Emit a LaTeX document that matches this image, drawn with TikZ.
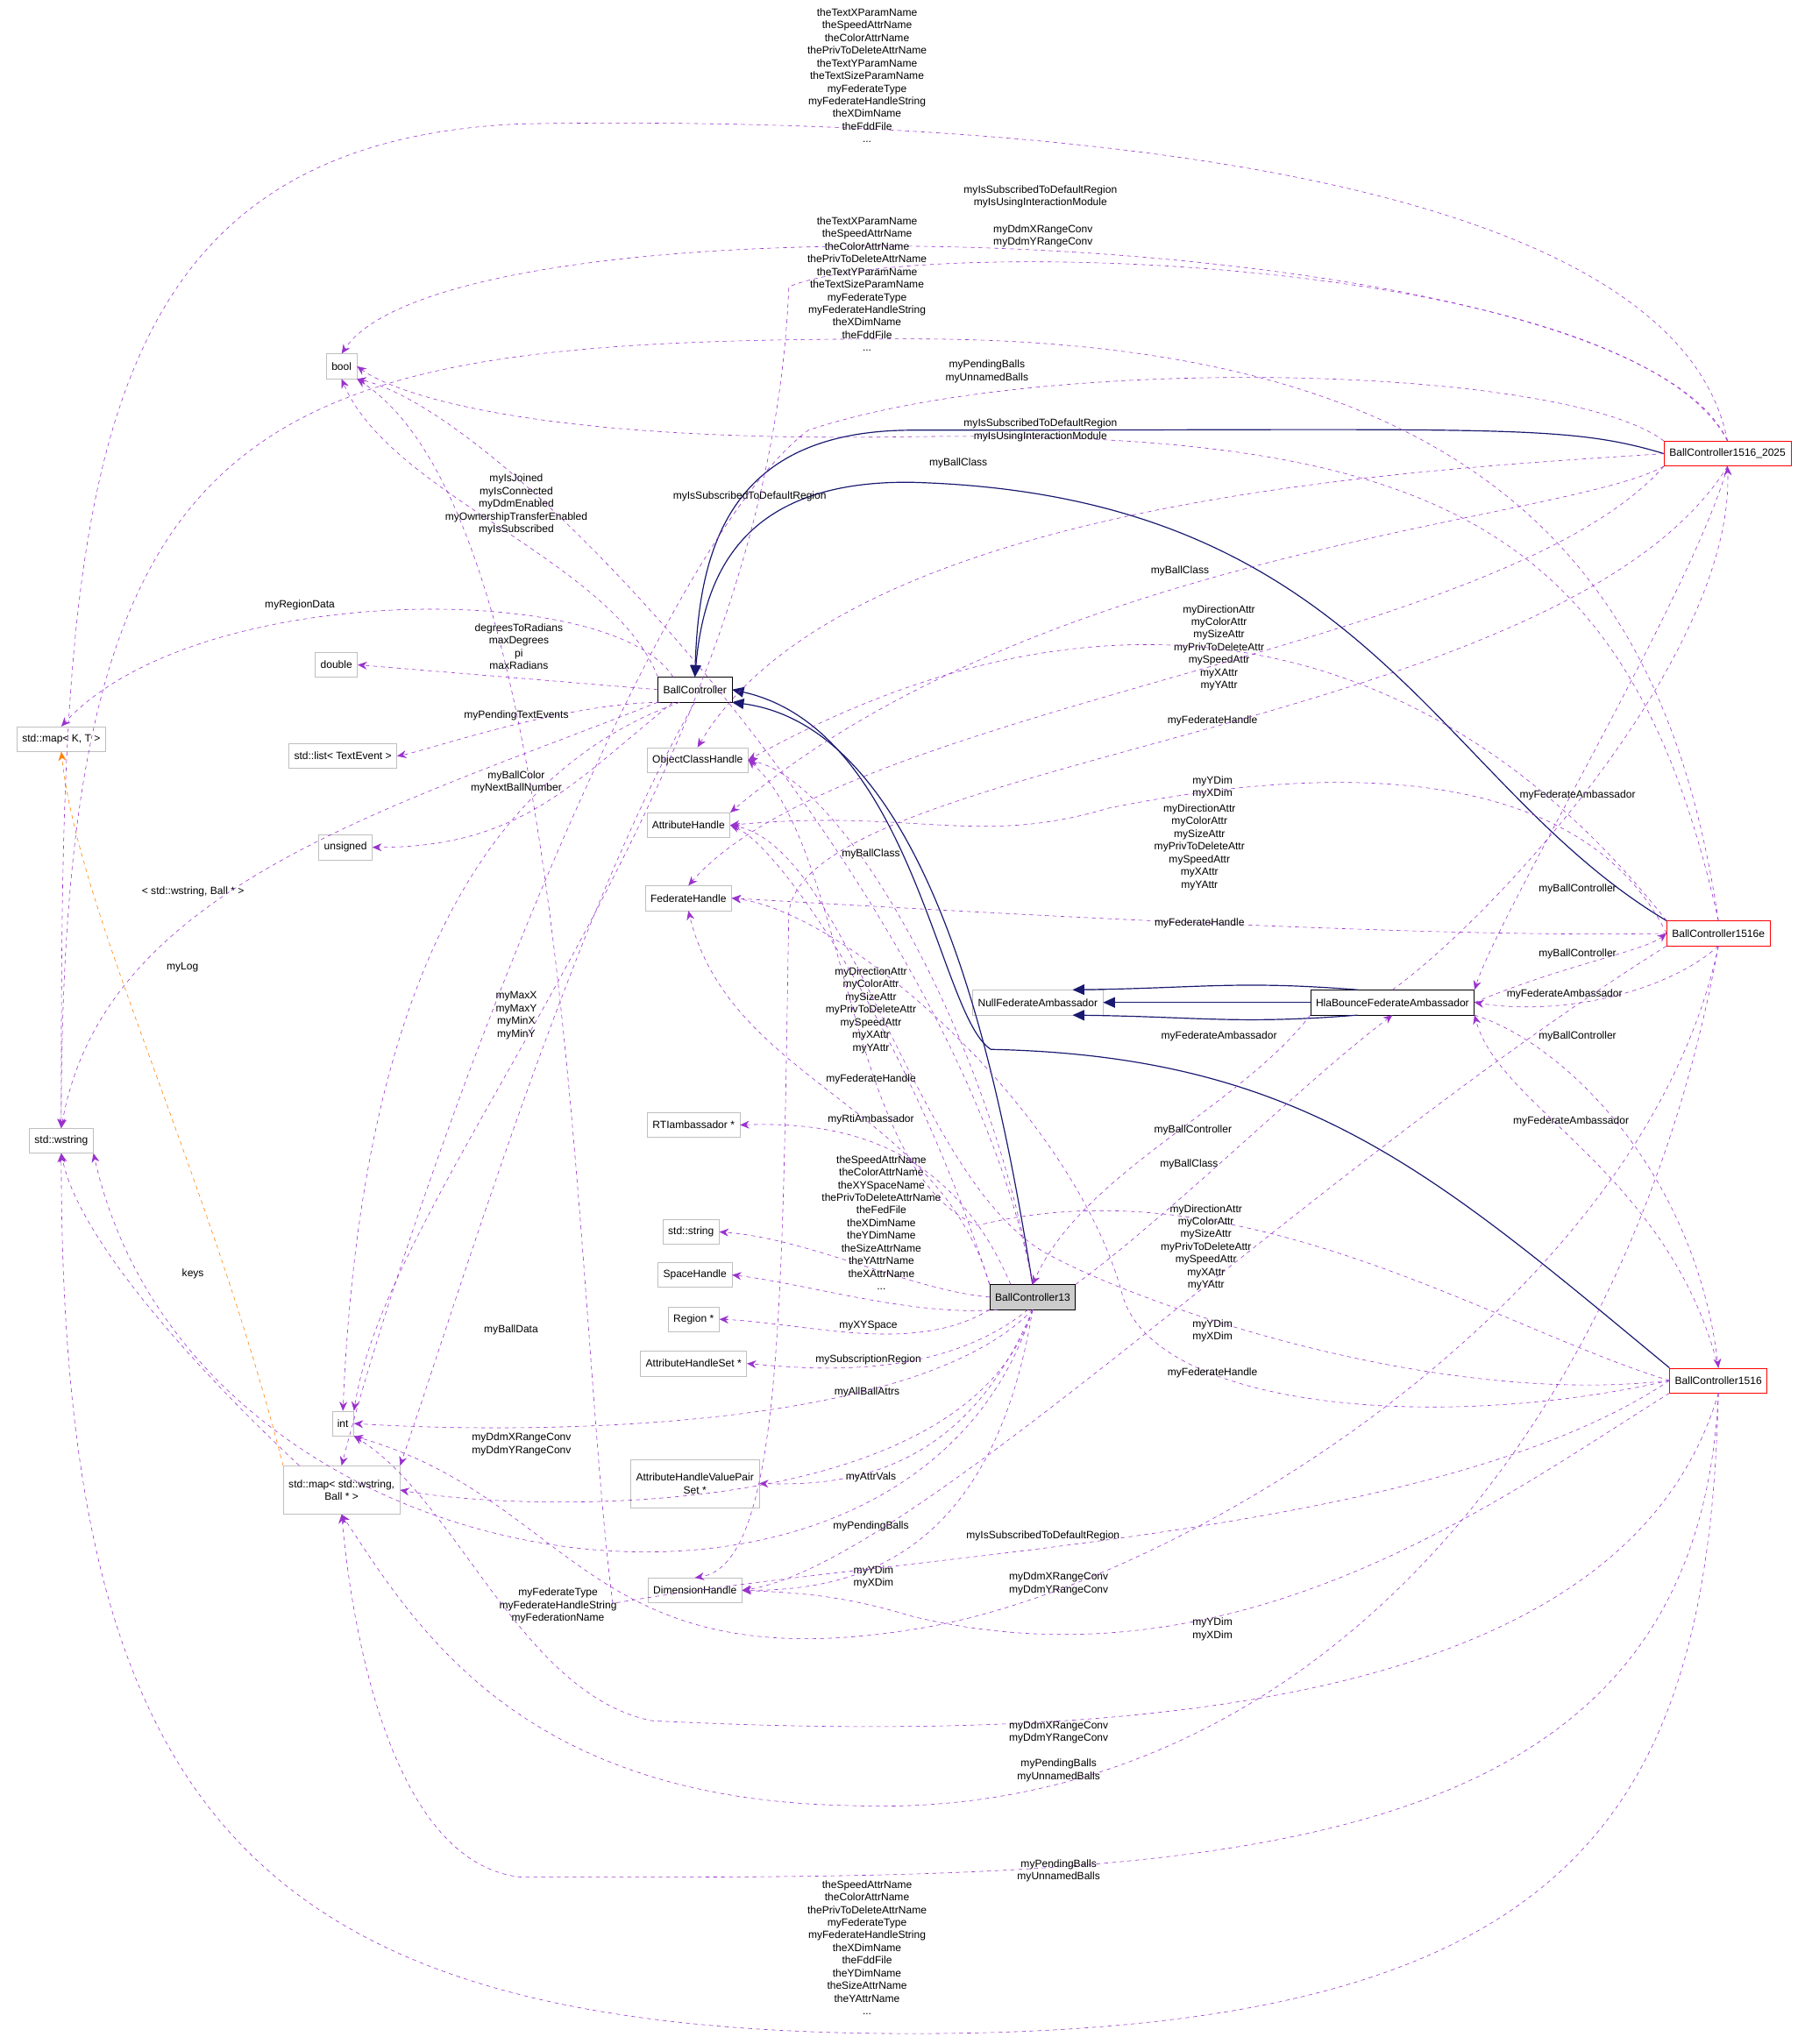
\documentclass[tikz,border=0pt]{standalone}
\usepackage{fontspec}
\setmainfont{Liberation Sans}
\usetikzlibrary{arrows.meta}
\definecolor{purp}{HTML}{9A32CD}
\definecolor{navy}{HTML}{191970}
\definecolor{boxg}{HTML}{BFBFBF}
\begin{document}
\begin{tikzpicture}[x=1pt,y=-1pt,
 box/.style={draw=boxg,fill=white,font=\fontsize{8.1}{9.7}\selectfont,inner xsep=4pt,inner ysep=0pt,minimum height=19pt,align=center},
 bbox/.style={box,draw=black},
 rbox/.style={box,draw=red},
 lab/.style={font=\fontsize{8.1}{9.7}\selectfont,align=center,inner sep=0pt},
 dep/.style={draw=purp,dashed,-{Stealth[length=7pt,width=6pt]}},
 inh/.style={draw=navy,thick,-{Triangle[length=9pt,width=8pt]}},
 tmpl/.style={draw=orange,dashed,-{Stealth[length=7pt,width=6pt]}}]
\useasboundingbox (0,0) rectangle (1384,1568);
% nodes
\node[box] (bool) at (262,281) {bool};
\node[box] (double) at (258,510) {double};
\node[box] (mapKT) at (47,567) {std::map< K, T >};
\node[box] (list) at (263,580) {std::list< TextEvent >};
\node[box] (unsigned) at (265,650) {unsigned};
\node[box] (wstring) at (47,875) {std::wstring};
\node[box] (int) at (263,1092) {int};
\node[box,minimum height=37pt] (mapWB) at (262,1143) {std::map< std::wstring,\\Ball * >};
\node[bbox] (bc) at (533,529) {BallController};
\node[box] (och) at (535,583) {ObjectClassHandle};
\node[box] (ah) at (528,633) {AttributeHandle};
\node[box] (fh) at (528,689) {FederateHandle};
\node[box] (rti) at (532,863) {RTIambassador *};
\node[box] (sstr) at (530,945) {std::string};
\node[box] (space) at (533,978) {SpaceHandle};
\node[box] (region) at (532,1012) {Region *};
\node[box] (ahs) at (532,1046) {AttributeHandleSet *};
\node[box,minimum height=37pt] (ahvps) at (533,1138) {AttributeHandleValuePair\\Set *};
\node[box] (dim) at (533,1220) {DimensionHandle};
\node[box,draw=black,fill=boxg!80] (bc13) at (792,995) {BallController13};
\node[box] (null) at (796,769) {NullFederateAmbassador};
\node[bbox] (hla) at (1068,769) {HlaBounceFederateAmbassador};
\node[rbox] (b25) at (1325,348) {BallController1516\_2025};
\node[rbox] (be) at (1318,716) {BallController1516e};
\node[rbox] (b16) at (1318,1059) {BallController1516};
% inheritance
\draw[inh] (bc13.north) .. controls (770,850) and (720,560) .. (bc.south east);
\draw[inh] (b25.west) .. controls (1200,325) and (1150,330) .. (700,330) .. controls (560,330) and (536,420) .. (bc.north);
\draw[inh] (be.north west) .. controls (1100,600) and (1050,380) .. (700,370) .. controls (570,368) and (540,440) .. (bc.north);
\draw[inh] (b16.north west) .. controls (1100,900) and (1000,810) .. (760,805) .. controls (720,780) and (700,560) .. (bc.east);
\draw[inh] (hla.west) -- (null.east);
\draw[inh] (hla.160) .. controls (950,752) and (920,758) .. (null.20);
\draw[inh] (hla.200) .. controls (950,786) and (920,780) .. (null.340);
\draw[tmpl] (mapWB.north west) .. controls (160,900) and (60,700) .. (mapKT.south);
\node[lab] (l0) at (148,684) {< std::wstring, Ball * >};
% BallController deps
\draw[dep] (bc.north west) .. controls (470,430) and (300,380) .. (bool.south);
\node[lab] (l1) at (396,387) {myIsJoined\\myIsConnected\\myDdmEnabled\\myOwnershipTransferEnabled\\myIsSubscribed};
\draw[dep] (bc.west) -- (double.east);
\node[lab] (l2) at (398,496) {degreesToRadians\\maxDegrees\\pi\\maxRadians};
\draw[dep] (bc.150) .. controls (470,445) and (150,445) .. (mapKT.north);
\node[lab] (l3) at (230,464) {myRegionData};
\draw[dep] (bc.200) .. controls (430,540) and (330,575) .. (list.east);
\node[lab] (l4) at (396,549) {myPendingTextEvents};
\draw[dep] (bc.210) .. controls (440,600) and (400,650) .. (unsigned.east);
\node[lab] (l5) at (396,600) {myBallColor\\myNextBallNumber};
\draw[dep] (bc.south west) .. controls (300,620) and (80,680) .. (wstring.north);
\node[lab] (l6) at (140,742) {myLog};
\draw[dep] (bc.220) .. controls (350,600) and (275,800) .. (int.north);
\node[lab] (l7) at (396,779) {myMaxX\\myMaxY\\myMinX\\myMinY};
\draw[dep] (bc.south) .. controls (440,700) and (350,1000) .. (mapWB.north east);
\node[lab] (l8) at (392,1020) {myBallData};
\draw[dep] (mapWB.150) .. controls (150,1050) and (60,950) .. (wstring.south);
\node[lab] (l9) at (148,977) {keys};
% BallController13 deps
\draw[dep] (bc13.150) .. controls (730,880) and (650,860) .. (rti.east);
\node[lab] (l10) at (668,859) {myRtiAmbassador};
\draw[dep] (bc13.west) .. controls (700,990) and (620,950) .. (sstr.east);
\node[lab] (l11) at (676,938) {theSpeedAttrName\\theColorAttrName\\theXYSpaceName\\thePrivToDeleteAttrName\\theFedFile\\theXDimName\\theYDimName\\theSizeAttrName\\theYAttrName\\theXAttrName\\...};
\draw[dep] (bc13.200) .. controls (700,1010) and (620,985) .. (space.east);
\node[lab] (l12) at (666,1017) {myXYSpace};
\draw[dep] (bc13.south west) .. controls (700,1040) and (620,1015) .. (region.east);
\node[lab] (l13) at (666,1043) {mySubscriptionRegion};
\draw[dep] (bc13.250) .. controls (720,1060) and (620,1050) .. (ahs.east);
\node[lab] (l14) at (665,1068) {myAllBallAttrs};
\draw[dep] (bc13.south) .. controls (700,1100) and (400,1100) .. (int.east);
\node[lab] (l15) at (400,1108) {myDdmXRangeConv\\myDdmYRangeConv};
\draw[dep] (bc13.south) .. controls (740,1130) and (650,1140) .. (ahvps.east);
\node[lab] (l16) at (668,1133) {myAttrVals};
\draw[dep] (bc13.south) .. controls (740,1170) and (400,1160) .. (mapWB.east);
\node[lab] (l17) at (668,1171) {myPendingBalls};
\draw[dep] (bc13.south) .. controls (760,1200) and (650,1220) .. (dim.east);
\node[lab] (l18) at (670,1210) {myYDim\\myXDim};
\draw[dep] (bc13.north) .. controls (760,800) and (650,600) .. (och.east);
\node[lab] (l19) at (668,655) {myBallClass};
\draw[dep] (bc13.north west) .. controls (700,800) and (600,650) .. (ah.east);
\node[lab] (l20) at (668,775) {myDirectionAttr\\myColorAttr\\mySizeAttr\\myPrivToDeleteAttr\\mySpeedAttr\\myXAttr\\myYAttr};
\draw[dep] (bc13.north west) .. controls (720,850) and (560,830) .. (fh.south);
\node[lab] (l21) at (668,828) {myFederateHandle};
\draw[dep] (bc13.north) .. controls (740,700) and (400,320) .. (bool.south east);
\node[lab] (l22) at (575,381) {myIsSubscribedToDefaultRegion};
\draw[dep] (bc13.north east) .. controls (900,930) and (1000,830) .. (hla.south);
\node[lab] (l23) at (935,795) {myFederateAmbassador};
\draw[dep] (hla.south west) .. controls (950,850) and (830,900) .. (bc13.north);
\node[lab] (l24) at (915,867) {myBallController};
\draw[dep] (bc13.south) .. controls (700,1300) and (150,1230) .. (wstring.south east);
\node[lab] (l25) at (428,1232) {myFederateType\\myFederateHandleString\\myFederationName};
% BallController1516_2025 deps
\draw[dep] (b25.north) .. controls (1280,110) and (700,90) .. (400,95) .. controls (50,110) and (47,400) .. (wstring.north);
\node[lab] (l26) at (665,58) {theTextXParamName\\theSpeedAttrName\\theColorAttrName\\thePrivToDeleteAttrName\\theTextYParamName\\theTextSizeParamName\\myFederateType\\myFederateHandleString\\theXDimName\\theFddFile\\...};
\draw[dep] (b25.north) .. controls (1250,170) and (350,140) .. (bool.north);
\node[lab] (l27) at (798,151) {myIsSubscribedToDefaultRegion\\myIsUsingInteractionModule};
\draw[dep] (b25.north) .. controls (1250,195) and (700,180) .. (605,220) .. controls (590,600) and (300,900) .. (int.north east);
\node[lab] (l28) at (800,181) {myDdmXRangeConv\\myDdmYRangeConv};
\draw[dep] (b25.north west) .. controls (1200,280) and (800,270) .. (620,330) .. controls (500,420) and (320,900) .. (mapWB.north);
\node[lab] (l29) at (757,285) {myPendingBalls\\myUnnamedBalls};
\draw[dep] (b25.west) .. controls (1100,360) and (650,380) .. (och.north);
\node[lab] (l30) at (735,355) {myBallClass};
\draw[dep] (b25.south west) .. controls (1200,400) and (800,420) .. (ah.north east);
\node[lab] (l31) at (935,497) {myDirectionAttr\\myColorAttr\\mySizeAttr\\myPrivToDeleteAttr\\mySpeedAttr\\myXAttr\\myYAttr};
\draw[dep] (b25.south west) .. controls (1150,500) and (650,540) .. (fh.north);
\node[lab] (l32) at (930,553) {myFederateHandle};
\draw[dep] (b25.south) .. controls (1200,560) and (620,580) .. (605,700) .. controls (600,1000) and (600,1200) .. (dim.north);
\node[lab] (l33) at (930,604) {myYDim\\myXDim};
\draw[dep] (b25.south) .. controls (1300,450) and (1150,700) .. (hla.north east);
\node[lab] (l34) at (1210,610) {myFederateAmbassador};
\draw[dep] (hla.north) .. controls (1150,700) and (1330,500) .. (b25.south);
\node[lab] (l35) at (1210,682) {myBallController};
% BallController1516e deps
\draw[dep] (be.north) .. controls (1280,450) and (1150,260) .. (700,260) .. controls (200,260) and (47,300) .. (wstring.north);
\node[lab] (l36) at (665,218) {theTextXParamName\\theSpeedAttrName\\theColorAttrName\\thePrivToDeleteAttrName\\theTextYParamName\\theTextSizeParamName\\myFederateType\\myFederateHandleString\\theXDimName\\theFddFile\\...};
\draw[dep] (be.north) .. controls (1250,400) and (1100,330) .. (700,335) .. controls (400,340) and (300,300) .. (bool.east);
\node[lab] (l37) at (798,330) {myIsSubscribedToDefaultRegion\\myIsUsingInteractionModule};
\draw[dep] (be.north west) .. controls (1100,480) and (850,430) .. (och.east);
\node[lab] (l38) at (905,438) {myBallClass};
\draw[dep] (be.west) .. controls (1200,560) and (950,600) .. (850,620) .. controls (750,650) and (700,620) .. (ah.east);
\node[lab] (l39) at (920,650) {myDirectionAttr\\myColorAttr\\mySizeAttr\\myPrivToDeleteAttr\\mySpeedAttr\\myXAttr\\myYAttr};
\draw[dep] (be.west) .. controls (1100,720) and (750,700) .. (fh.east);
\node[lab] (l40) at (920,708) {myFederateHandle};
\draw[dep] (be.south) .. controls (1280,760) and (1200,780) .. (hla.east);
\node[lab] (l41) at (1200,763) {myFederateAmbassador};
\draw[dep] (hla.east) .. controls (1200,740) and (1260,730) .. (be.west);
\node[lab] (l42) at (1210,732) {myBallController};
\draw[dep] (be.south) .. controls (1260,1000) and (900,1220) .. (700,1250) .. controls (450,1290) and (440,1150) .. (int.south east);
\node[lab] (l43) at (812,1215) {myDdmXRangeConv\\myDdmYRangeConv};
\draw[dep] (be.south) .. controls (1250,1100) and (1000,1400) .. (650,1385) .. controls (400,1380) and (320,1250) .. (mapWB.south);
\node[lab] (l44) at (812,1358) {myPendingBalls\\myUnnamedBalls};
\draw[dep] (be.south west) .. controls (1000,900) and (700,1200) .. (dim.east);
\node[lab] (l45) at (930,1021) {myYDim\\myXDim};
% BallController1516 deps
\draw[dep] (b16.south) .. controls (1310,1400) and (1200,1560) .. (700,1560) .. controls (200,1560) and (47,1400) .. (wstring.south);
\node[lab] (l46) at (665,1494) {theSpeedAttrName\\theColorAttrName\\thePrivToDeleteAttrName\\myFederateType\\myFederateHandleString\\theXDimName\\theFddFile\\theYDimName\\theSizeAttrName\\theYAttrName\\...};
\draw[dep] (b16.west) .. controls (1100,1180) and (700,1190) .. (470,1230) .. controls (440,1000) and (440,400) .. (bool.south east);
\node[lab] (l47) at (800,1178) {myIsSubscribedToDefaultRegion};
\draw[dep] (b16.west) .. controls (1150,1020) and (950,890) .. (750,940) .. controls (650,900) and (650,650) .. (och.east);
\node[lab] (l48) at (912,893) {myBallClass};
\draw[dep] (b16.west) .. controls (1100,1080) and (870,1000) .. (800,960) .. controls (700,900) and (650,650) .. (ah.east);
\node[lab] (l49) at (925,957) {myDirectionAttr\\myColorAttr\\mySizeAttr\\myPrivToDeleteAttr\\mySpeedAttr\\myXAttr\\myYAttr};
\draw[dep] (b16.west) .. controls (1100,1100) and (880,1080) .. (860,990) .. controls (820,850) and (650,700) .. (fh.east);
\node[lab] (l50) at (930,1053) {myFederateHandle};
\draw[dep] (b16.south west) .. controls (1150,1150) and (950,1300) .. (700,1240) .. controls (650,1225) and (620,1222) .. (dim.east);
\node[lab] (l51) at (930,1250) {myYDim\\myXDim};
\draw[dep] (b16.south) .. controls (1250,1300) and (900,1340) .. (500,1320) .. controls (400,1300) and (350,1150) .. (int.south east);
\node[lab] (l52) at (812,1329) {myDdmXRangeConv\\myDdmYRangeConv};
\draw[dep] (b16.south) .. controls (1300,1450) and (900,1440) .. (400,1440) .. controls (300,1430) and (270,1250) .. (mapWB.south);
\node[lab] (l53) at (812,1435) {myPendingBalls\\myUnnamedBalls};
\draw[dep] (hla.south east) .. controls (1200,800) and (1300,900) .. (b16.north);
\node[lab] (l54) at (1210,795) {myBallController};
\draw[dep] (b16.north) .. controls (1280,900) and (1150,850) .. (hla.south east);
\node[lab] (l55) at (1205,860) {myFederateAmbassador};
\end{tikzpicture}
\end{document}
